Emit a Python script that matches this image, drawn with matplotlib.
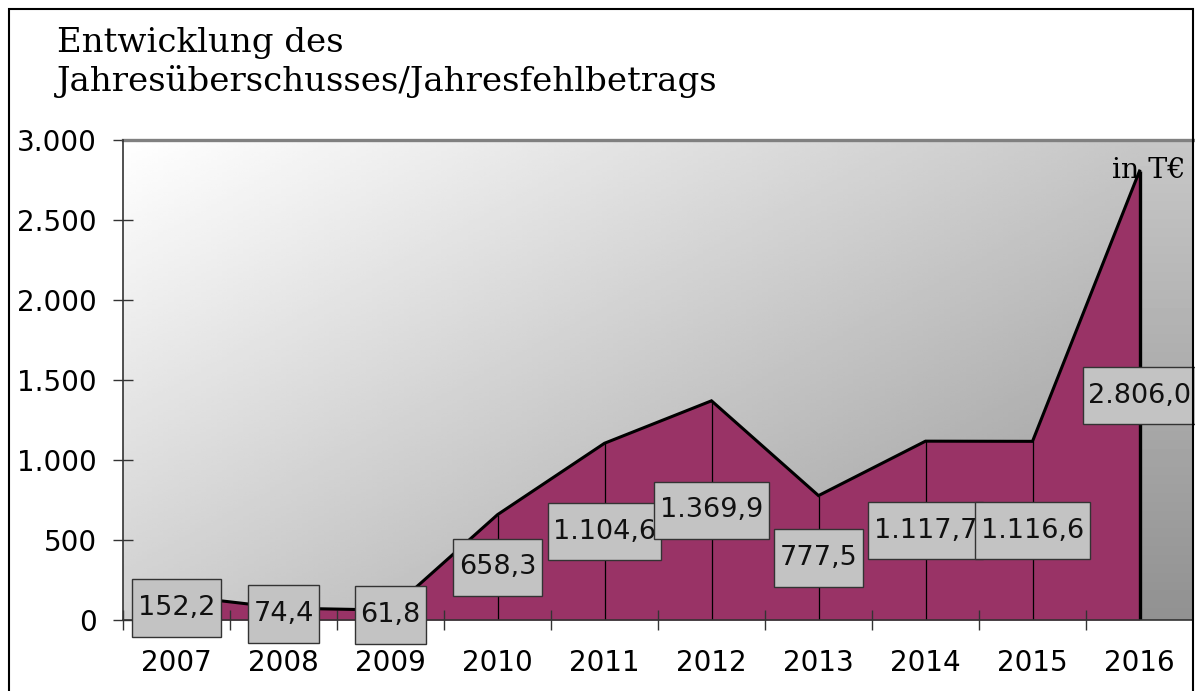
import numpy as np
import matplotlib
matplotlib.use("Agg")
import matplotlib.pyplot as plt
from matplotlib.patches import Rectangle
from matplotlib.path import Path

jahre = ["2007", "2008", "2009", "2010", "2011", "2012", "2013", "2014", "2015", "2016"]
werte = [152.2, 74.4, 61.8, 658.3, 1104.6, 1369.9, 777.5, 1117.7, 1116.6, 2806.0]
y_ticks = [0, 500, 1000, 1500, 2000, 2500, 3000]
y_labels = ["0", "500", "1.000", "1.500", "2.000", "2.500", "3.000"]

def de_format(v):
    s = "{:,.1f}".format(v)
    return s.replace(",", "X").replace(".", ",").replace("X", ".")

def label_box(x0, y0, width, height, mutation_size):
    # flacher, hoher Kasten wie im Original
    px = 0.2 * mutation_size
    py = 0.58 * mutation_size
    x0, y0 = x0 - px, y0 - py
    w, h = width + 2 * px, height + 2 * py
    return Path([(x0, y0), (x0 + w, y0), (x0 + w, y0 + h), (x0, y0 + h), (x0, y0)],
                closed=True)

W, H = 1195, 691
fig = plt.figure(figsize=(W / 100, H / 100), dpi=100)
ax = fig.add_axes([123 / W, 1 - 620 / H, (1193 - 123) / W, (620 - 140) / H])

x = np.arange(len(jahre))

# Hintergrund-Verlauf (oben links hell, unten rechts dunkel)
u = np.linspace(0, 1, 200)
v = np.linspace(0, 1, 200)
U, V = np.meshgrid(u, v)
grad = 1 - 0.42 * (0.55 * U + 0.45 * V)
ax.imshow(grad, extent=[-0.5, 9.5, 0, 3000], cmap="gray", vmin=0, vmax=1,
          aspect="auto", zorder=0, interpolation="bilinear")
strip = np.linspace(0.78, 0.57, 100).reshape(-1, 1)
ax.imshow(strip, extent=[9, 9.5, 0, 3000], cmap="gray", vmin=0, vmax=1,
          aspect="auto", zorder=0.5, interpolation="bilinear")

ax.fill_between(x, 0, werte, color="#993366", zorder=1, linewidth=0)
ax.plot(x, werte, color="black", lw=2.2, zorder=3, solid_joinstyle="miter")
ax.vlines(x[:-1], 0, werte[:-1], color="black", lw=0.9, zorder=2)
ax.vlines(x[-1], 0, werte[-1], color="black", lw=2.4, zorder=3)

for xi, w in zip(x, werte):
    ax.text(xi, w / 2, de_format(w), ha="center", va="center", fontsize=19.5,
            family="DejaVu Sans", color="#111111", zorder=5,
            bbox=dict(boxstyle=label_box, facecolor="#c3c3c3",
                      edgecolor="#333333", linewidth=1))

ax.set_xlim(-0.5, 9.5)
ax.set_ylim(0, 3000)
ax.set_yticks(y_ticks)
ax.set_yticklabels(y_labels, fontsize=20, family="DejaVu Sans")
ax.set_xticks(x)
ax.set_xticklabels(jahre, fontsize=20, family="DejaVu Sans")
ax.set_xticks(np.arange(-0.5, 9.0, 1.0), minor=True)
ax.tick_params(axis="x", which="major", length=0, pad=21)
ax.tick_params(axis="x", which="minor", direction="inout", length=15, width=1, color="#333333")
ax.tick_params(axis="y", direction="inout", length=14, width=1, color="#333333", pad=12)

for s in ["left", "bottom"]:
    ax.spines[s].set_color("#333333")
    ax.spines[s].set_linewidth(1.2)
    ax.spines[s].set_zorder(4)
ax.spines["top"].set_color("#808080")
ax.spines["top"].set_linewidth(2.4)
ax.spines["right"].set_visible(False)

fig.text(1185 / W, 1 - 178 / H, "in T€", fontsize=20.5, family="DejaVu Serif",
         ha="right", va="baseline", zorder=6)

fig.text(57 / W, 1 - 52 / H, "Entwicklung des", fontsize=24.5, family="DejaVu Serif",
         ha="left", va="baseline")
fig.text(57 / W, 1 - 91 / H, "Jahresüberschusses/Jahresfehlbetrags", fontsize=24.5,
         family="DejaVu Serif", ha="left", va="baseline")

fig.patches.append(Rectangle((9 / W, -0.05), (1193 - 9) / W, 1.05 - 9 / H,
                             transform=fig.transFigure, fill=False,
                             edgecolor="black", linewidth=1.5))

fig.savefig("out.png", dpi=100)
